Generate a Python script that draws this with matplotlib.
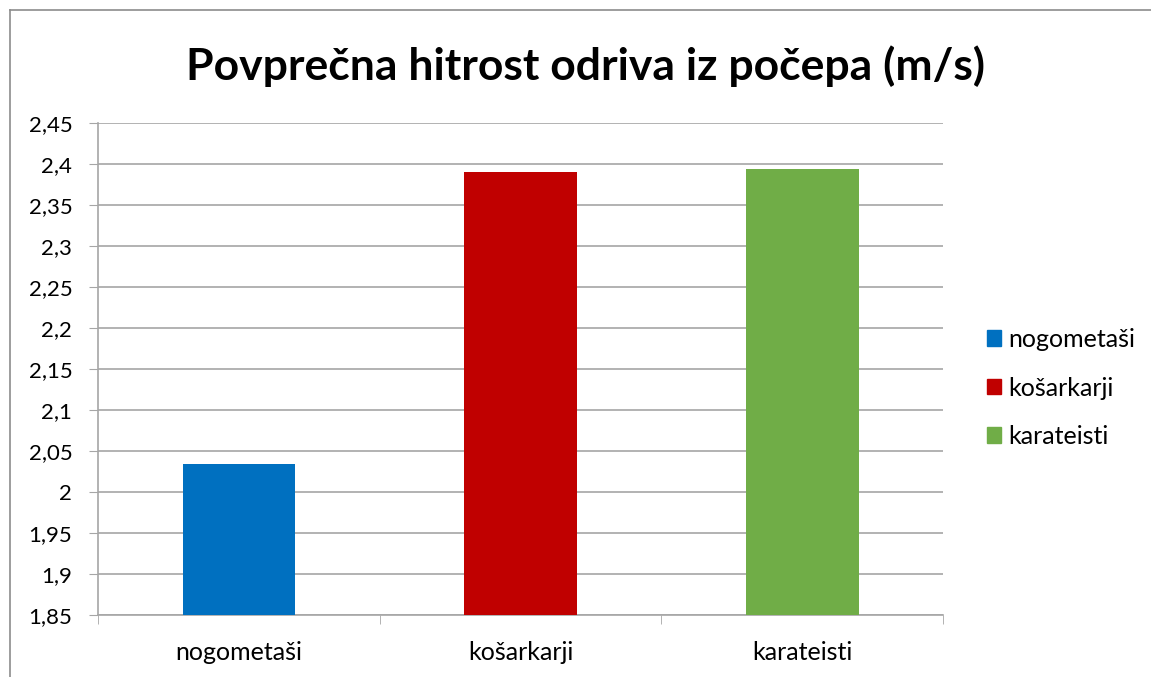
import matplotlib.pyplot as plt
from matplotlib.patches import Rectangle

# data
categories = ['nogometaši', 'košarkarji', 'karateisti']
speeds = [2.034, 2.390, 2.394]
colors = ['#0070c0', '#c00000', '#70ad47']
y_ticks = [1.85, 1.9, 1.95, 2.0, 2.05, 2.1, 2.15, 2.2, 2.25, 2.3, 2.35, 2.4, 2.45]
y_labels = ['1,85', '1,9', '1,95', '2', '2,05', '2,1', '2,15', '2,2', '2,25', '2,3', '2,35', '2,4', '2,45']

plt.rcParams['font.family'] = ['Lato', 'DejaVu Sans']

fig = plt.figure(figsize=(11.51, 6.77), dpi=100)
ax = fig.add_axes([98 / 1151, 1 - 615 / 677, 845 / 1151, 492 / 677])

grid_col = '#a6a6a6'
x = list(range(len(categories)))
ax.bar(x, speeds, width=0.4, color=colors, zorder=3)

ax.set_xlim(-0.5, len(categories) - 0.5)
ax.set_ylim(1.85, 2.45)
ax.set_yticks(y_ticks)
ax.set_yticklabels(y_labels, fontsize=16)
ax.set_xticks(x)
ax.set_xticklabels(categories, fontsize=18)
ax.set_xticks([-0.5, 0.5, 1.5, 2.5], minor=True)

ax.tick_params(axis='y', length=6.5, color=grid_col, pad=12)
ax.tick_params(axis='x', which='major', length=0, pad=19)
ax.tick_params(axis='x', which='minor', length=6.5, color=grid_col)
ax.yaxis.grid(True, color=grid_col, linewidth=1.2, zorder=0)
for s in ['top', 'right']:
    ax.spines[s].set_visible(False)
for s in ['left', 'bottom']:
    ax.spines[s].set_color(grid_col)
    ax.spines[s].set_linewidth(1.2)

fig.text(585 / 1151, 1 - 66 / 677, 'Povprečna hitrost odriva iz počepa (m/s)',
         ha='center', va='center', fontsize=32, fontweight='bold')

handles = [Rectangle((0, 0), 1, 1, color=c) for c in colors]
fig.legend(handles, categories, loc='center left', bbox_to_anchor=(964 / 1151, 1 - 388 / 677),
           frameon=False, fontsize=18, handlelength=0.58, handleheight=0.58,
           handletextpad=0.3, labelspacing=1.02)

# chart area border
fig.add_artist(plt.Line2D([9.5 / 1151, 9.5 / 1151], [0, 1 - 9.5 / 677], color='#8c8c8c', linewidth=1.2))
fig.add_artist(plt.Line2D([9.5 / 1151, 1], [1 - 9.5 / 677, 1 - 9.5 / 677], color='#8c8c8c', linewidth=1.2))

fig.savefig('out.png', dpi=100)
